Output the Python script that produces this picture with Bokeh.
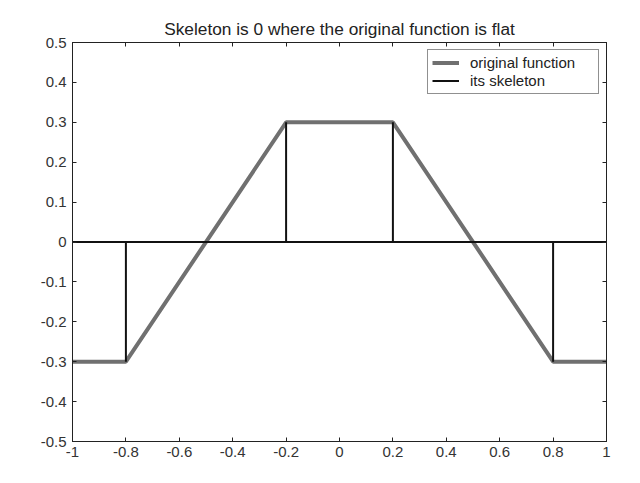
from bokeh.plotting import figure
from bokeh.models import FixedTicker, LinearAxis, Range1d, Legend, LegendItem, Title
from bokeh.embed import file_html
from bokeh.resources import INLINE

# Data
orig_x = [-1.0, -0.8, -0.2, 0.2, 0.8, 1.0]
orig_y = [-0.3, -0.3, 0.3, 0.3, -0.3, -0.3]
skel_x = [-1.0, -0.8, -0.8, -0.8, -0.2, -0.2, -0.2, 0.2, 0.2, 0.2, 0.8, 0.8, 0.8, 1.0]
skel_y = [0.0, 0.0, -0.3, 0.0, 0.0, 0.3, 0.0, 0.0, 0.3, 0.0, 0.0, -0.3, 0.0, 0.0]
x_ticks = [-1.0, -0.8, -0.6, -0.4, -0.2, 0.0, 0.2, 0.4, 0.6, 0.8, 1.0]
x_tick_labels = ["-1", "-0.8", "-0.6", "-0.4", "-0.2", "0", "0.2", "0.4", "0.6", "0.8", "1"]
y_ticks = [-0.5, -0.4, -0.3, -0.2, -0.1, 0.0, 0.1, 0.2, 0.3, 0.4, 0.5]
y_tick_labels = ["-0.5", "-0.4", "-0.3", "-0.2", "-0.1", "0", "0.1", "0.2", "0.3", "0.4", "0.5"]
title_text = "Skeleton is 0 where the original function is flat"

FONT = "Liberation Sans"

p = figure(width=632, height=475, output_backend="svg", toolbar_location=None,
           x_range=Range1d(-1, 1), y_range=Range1d(-0.5, 0.5),
           x_axis_location=None, y_axis_location=None,
           min_border_left=72, min_border_right=26, min_border_top=42, min_border_bottom=34)
p.title = Title(text=title_text, align="center", text_font=FONT, text_font_size="17.3px",
                text_font_style="normal", text_color="#222222", standoff=7)
p.grid.visible = False
p.outline_line_color = "#222222"
p.outline_line_width = 1
p.background_fill_color = "white"
p.border_fill_color = "white"

xover = {t: l for t, l in zip(x_ticks, x_tick_labels)}
yover = {t: l for t, l in zip(y_ticks, y_tick_labels)}

def style(ax, labels=True):
    ax.major_tick_in = 4
    ax.major_tick_out = 0
    ax.minor_tick_in = 0
    ax.minor_tick_out = 0
    ax.axis_line_color = "#222222"
    ax.major_tick_line_color = "#222222"
    ax.major_label_text_font = FONT
    ax.major_label_text_font_size = "15px"
    ax.major_label_text_color = "#333333"
    if not labels:
        ax.major_label_text_alpha = 0

bottom = LinearAxis(ticker=FixedTicker(ticks=x_ticks), major_label_overrides=xover)
style(bottom)
bottom.major_label_standoff = 5
top = LinearAxis(ticker=FixedTicker(ticks=x_ticks), major_label_overrides=xover)
style(top, labels=False)
left = LinearAxis(ticker=FixedTicker(ticks=y_ticks), major_label_overrides=yover)
style(left)
left.major_label_standoff = 6
right = LinearAxis(ticker=FixedTicker(ticks=y_ticks), major_label_overrides=yover)
style(right, labels=False)
p.add_layout(bottom, "below")
p.add_layout(top, "above")
p.add_layout(left, "left")
p.add_layout(right, "right")

r1 = p.line(orig_x, orig_y, line_color="#707070", line_width=4)
r2 = p.line(skel_x, skel_y, line_color="#111111", line_width=2)

legend = Legend(items=[LegendItem(label="original function", renderers=[r1]),
                       LegendItem(label="its skeleton", renderers=[r2])],
                location="top_right")
legend.label_text_font = FONT
legend.label_text_font_size = "15px"
legend.label_text_color = "#222222"
legend.glyph_width = 27
legend.glyph_height = 15
legend.label_height = 15
legend.label_width = 124
legend.spacing = 1
legend.padding = 4
legend.margin = 7
legend.label_standoff = 11
legend.border_line_color = "#222222"
legend.border_line_width = 1
legend.background_fill_alpha = 1
p.add_layout(legend, "center")

open("out.html", "w").write(file_html(p, INLINE))
